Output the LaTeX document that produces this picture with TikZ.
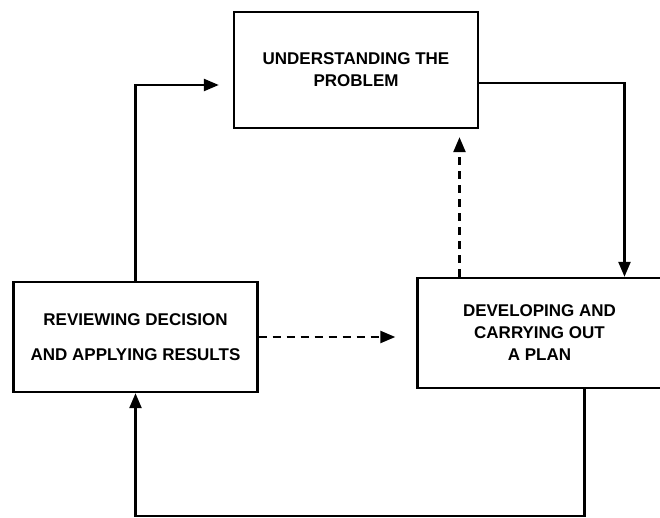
\documentclass[tikz,border=0pt]{standalone}
\usepackage{fontspec}
\setmainfont{Liberation Sans}
\usetikzlibrary{arrows.meta}

\tikzset{
  stage/.style={draw, line width=2.4pt, minimum width=244pt, minimum height=#1,
    align=center, inner sep=0pt, font=\fontsize{17}{22}\selectfont\bfseries},
  flow/.style={line width=2.4pt, -{Triangle[length=15pt,width=12pt]}},
  dflow/.style={flow, dash pattern=on 8pt off 6pt}
}

\begin{document}
\begin{tikzpicture}[x=1pt,y=-1pt]
  \useasboundingbox (0,0) rectangle (660,518);

  % the three stages
  \node[stage=116pt] (und) at (356,70) {UNDERSTANDING THE\\PROBLEM};
  \node[stage=110pt, font=\fontsize{17}{35}\selectfont\bfseries] (rev) at (135.5,337)
    {REVIEWING DECISION\\AND APPLYING RESULTS};
  \node[stage=110pt] (dev) at (539.5,333) {DEVELOPING AND\\CARRYING OUT\\A PLAN};

  % main loop
  \draw[flow, shorten >=14pt] (rev.north) |- ([yshift=-15pt]und.west);
  \draw[flow] ([yshift=-13pt]und.east) -| ([xshift=85pt]dev.north);
  \draw[flow] ([xshift=45pt]dev.south) -- ++(0,127) -| (rev.south);

  % shortcuts
  \draw[dflow, shorten >=8pt] ([xshift=-80pt]dev.north) -- ([xshift=-80pt]dev.north |- und.south);
  \draw[dflow, shorten >=21pt] (rev.east) -- (rev.east -| dev.west);
\end{tikzpicture}
\end{document}
